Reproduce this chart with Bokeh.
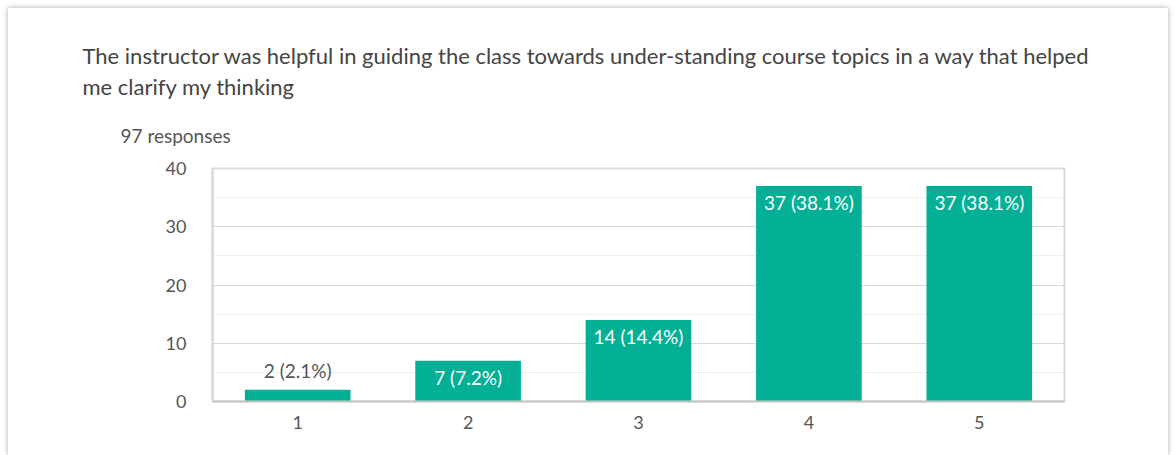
from bokeh.plotting import figure
from bokeh.models import ColumnDataSource, Title, SingleIntervalTicker, Range1d, FactorRange
from bokeh.core.properties import value
from bokeh.embed import file_html
from bokeh.resources import INLINE

title_line1 = "The instructor was helpful in guiding the class towards under-standing course topics in a way that helped"
title_line2 = "me clarify my thinking"
subtitle = "97 responses"

categories = ["1", "2", "3", "4", "5"]
counts = [2, 7, 14, 37, 37]
labels = ["2 (2.1%)", "7 (7.2%)", "14 (14.4%)", "37 (38.1%)", "37 (38.1%)"]

FONT = "Lato"
BAR = "#03b096"

p = figure(width=1160, height=447, x_range=FactorRange(*categories), y_range=Range1d(0, 40),
           output_backend="svg", toolbar_location=None, title=None,
           min_border_left=204, min_border_right=104, min_border_top=160, min_border_bottom=54)
p.styles = {"box-shadow": "0 0 5px rgba(0,0,0,0.35)", "margin-left": "8px", "margin-top": "8px"}
p.background_fill_color = "white"
p.border_fill_color = "white"
p.outline_line_color = "#dadada"
p.outline_line_width = 2

src = ColumnDataSource(dict(cat=categories, count=counts, label=labels))
p.vbar(x="cat", top="count", width=0.62, source=src, color=BAR, line_color=None)

inside = [i for i, c in enumerate(counts) if c >= 5]
outside = [i for i, c in enumerate(counts) if c < 5]
src_in = ColumnDataSource(dict(cat=[categories[i] for i in inside], count=[counts[i] for i in inside],
                               label=[labels[i] for i in inside]))
src_out = ColumnDataSource(dict(cat=[categories[i] for i in outside], count=[counts[i] for i in outside],
                                label=[labels[i] for i in outside]))
p.text(x="cat", y="count", text="label", source=src_in, text_align="center", text_baseline="middle",
       y_offset=17, text_color="white", text_font=value(FONT), text_font_size="19px")
p.text(x="cat", y="count", text="label", source=src_out, text_align="center", text_baseline="middle",
       y_offset=-19, text_color="#555555", text_font=value(FONT), text_font_size="19px")

ticker = SingleIntervalTicker(interval=10, num_minor_ticks=2)
p.yaxis.ticker = ticker
p.ygrid.ticker = ticker
p.ygrid.grid_line_color = "#d9d9d9"
p.ygrid.minor_grid_line_color = "#eeeeee"
p.xgrid.grid_line_color = None

for ax in (p.xaxis, p.yaxis):
    ax.major_tick_line_color = None
    ax.minor_tick_line_color = None
    ax.axis_line_width = 2
    ax.major_label_text_font = FONT
    ax.major_label_text_font_size = "18px"
    ax.major_label_text_color = "#555555"
p.xaxis.axis_line_color = "#c6c6c6"
p.yaxis.axis_line_color = "#d6d6d6"
p.yaxis.major_label_standoff = 20
p.xaxis.major_label_standoff = 8

p.add_layout(Title(text=subtitle, align="left", offset=-92, text_font=FONT, text_font_size="19px",
                   text_font_style="normal", text_color="#555555", standoff=44), "above")
p.add_layout(Title(text=title_line2, align="left", offset=-130, text_font=FONT, text_font_size="22px",
                   text_font_style="normal", text_color="#444444", standoff=0), "above")
p.add_layout(Title(text=title_line1, align="left", offset=-130, text_font=FONT, text_font_size="22px",
                   text_font_style="normal", text_color="#444444", standoff=4), "above")

open("out.html", "w").write(file_html(p, INLINE))
